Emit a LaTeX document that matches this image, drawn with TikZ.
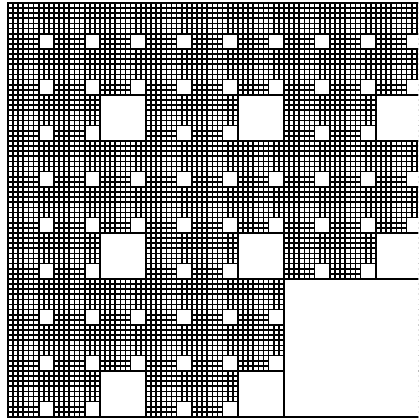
\documentclass[tikz,border=0pt]{standalone}
\tikzset{
  gridline/.style={line width=1.7pt, black},
  hole/.style={fill=white, draw=black, line width=1.7pt},
  frame/.style={draw=black, line width=2.2pt}
}
\begin{document}
\begin{tikzpicture}[x=1pt,y=-1pt]
\useasboundingbox (0,0) rectangle (418,419);
\fill[white] (0,0) rectangle (418,419);
\clip (0,0) rectangle (418,419);
\begin{scope}[shift={(8,3)}, x=5.11pt, y=-5.11pt]
  \foreach \i in {0,...,81} {
    \draw[gridline] (\i,0) -- (\i,81);
    \draw[gridline] (0,\i) -- (81,\i);
  }
  \foreach \a in {0,...,8} {
    \foreach \b in {0,...,8} {
      \filldraw[hole] ({9*\a+6},{9*\b+6}) rectangle ++(3,3);
    }
  }
  \foreach \a in {0,1,2} {
    \foreach \b in {0,1,2} {
      \filldraw[hole] ({27*\a+18},{27*\b+18}) rectangle ++(9,9);
    }
  }
  \filldraw[hole] (54,54) rectangle ++(27,27);
  \draw[frame] (0,0) rectangle (81,81);
\end{scope}
\end{tikzpicture}
\end{document}
